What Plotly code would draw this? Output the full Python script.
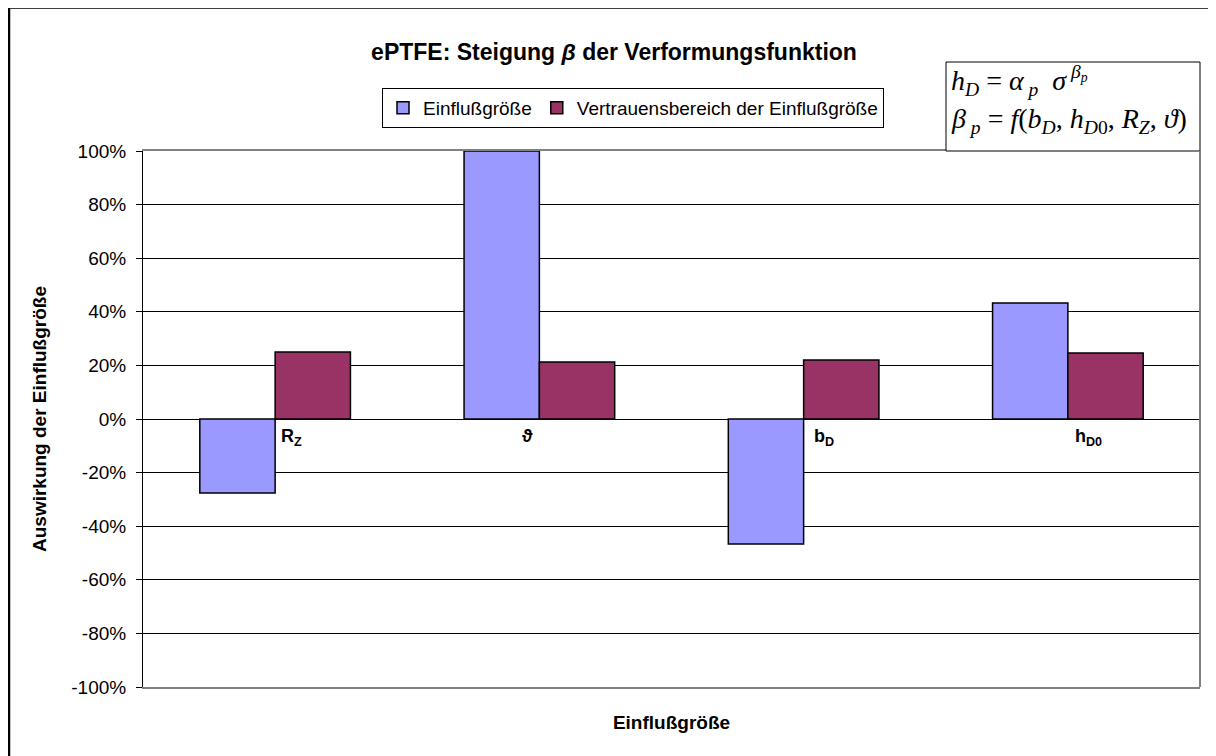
import plotly.graph_objects as go

categories = ["R<sub>Z</sub>", "ϑ", "b<sub>D</sub>", "h<sub>D0</sub>"]
einfluss = [-0.276, 1.0, -0.466, 0.433]
vertrauen = [0.25, 0.213, 0.22, 0.246]
tick_vals = [-1.0, -0.8, -0.6, -0.4, -0.2, 0.0, 0.2, 0.4, 0.6, 0.8, 1.0]
tick_text = ["-100%", "-80%", "-60%", "-40%", "-20%", "0%", "20%", "40%", "60%", "80%", "100%"]
cat_ids = ["RZ", "theta", "bD", "hD0"]

FONT = "Liberation Sans, Arial, sans-serif"
SERIF = "Liberation Serif, Times New Roman, serif"

# figure is drawn inside the page body (8px default margin), so size is reduced accordingly
W, H = 1208, 748
L, T, R, B = 135, 143, 16, 69
PW, PH = W - L - R, H - T - B


def px(xp):
    return (xp - L) / PW


def py(yp):
    return (H - B - yp) / PH


fig = go.Figure()
fig.add_trace(go.Bar(x=cat_ids, y=einfluss, name="Einflußgröße",
                     marker=dict(color="#9999FF", line=dict(color="#000000", width=1.5))))
fig.add_trace(go.Bar(x=cat_ids, y=vertrauen, name="Vertrauensbereich der Einflußgröße",
                     marker=dict(color="#993366", line=dict(color="#000000", width=1.5))))

annotations = []
shifts = [4, -12, 8, 5]
anchors = ["left", "center", "left", "left"]
for cid, lab, sh, an in zip(cat_ids, categories, shifts, anchors):
    annotations.append(dict(x=cid, y=0, xref="x", yref="y", text="<b>" + lab + "</b>",
                            showarrow=False, xanchor=an, yanchor="top", yshift=-5, xshift=sh,
                            font=dict(family=FONT, size=18, color="#000000")))

annotations.append(dict(xref="paper", yref="paper", x=px(941), y=py(73), xanchor="left", yanchor="middle",
                        text="<i>h</i><sub><i>D</i></sub> = <i>α</i><sub> <i>p</i></sub>  <i>σ</i><sup> <i>β</i><sub><i>p</i></sub></sup>",
                        showarrow=False, align="left",
                        font=dict(family=SERIF, size=28, color="#000000")))
annotations.append(dict(xref="paper", yref="paper", x=px(941), y=py(113), xanchor="left", yanchor="middle",
                        text="<i>β</i><sub> <i>p</i></sub> = <i>f</i>(<i>b</i><sub><i>D</i></sub>, <i>h</i><sub><i>D</i>0</sub>, <i>R</i><sub><i>Z</i></sub>, <i>ϑ</i>)",
                        showarrow=False, align="left",
                        font=dict(family=SERIF, size=28, color="#000000")))

fig.update_layout(
    width=W, height=H,
    margin=dict(l=L, r=R, t=T, b=B),
    paper_bgcolor="#FFFFFF", plot_bgcolor="#FFFFFF",
    barmode="group", bargap=0.43, bargroupgap=0,
    font=dict(family=FONT, size=19, color="#000000"),
    title=dict(text="<b>ePTFE: Steigung <i>β</i> der Verformungsfunktion</b>",
               x=606 / W, xanchor="center", y=1 - 44 / H, yanchor="middle",
               font=dict(family=FONT, size=23, color="#000000")),
    legend=dict(orientation="h", x=px(374), y=py(80), xanchor="left", yanchor="top",
                bordercolor="#000000", borderwidth=1, bgcolor="#FFFFFF",
                font=dict(family=FONT, size=19, color="#000000"),
                itemwidth=30, tracegroupgap=0, traceorder="normal"),
    xaxis=dict(showticklabels=False, showgrid=False, zeroline=False, showline=True,
               linecolor="#808080", linewidth=2, mirror=True, ticks="",
               title=dict(text="<b>Einflußgröße</b>", standoff=28,
                          font=dict(family=FONT, size=19, color="#000000"))),
    yaxis=dict(range=[-1, 1], tickvals=tick_vals, ticktext=tick_text,
               showgrid=True, gridcolor="#000000", gridwidth=1,
               zeroline=True, zerolinecolor="#000000", zerolinewidth=1,
               showline=True, linecolor="#000000", linewidth=1,
               ticks="outside", ticklen=6, tickcolor="#000000", ticklabelstandoff=6,
               tickfont=dict(family=FONT, size=19, color="#000000"),
               title=dict(text="<b>Auswirkung der Einflußgröße</b>", standoff=19,
                          font=dict(family=FONT, size=19, color="#000000"))),
    annotations=annotations,
    shapes=[
        dict(type="rect", xref="paper", yref="paper", x0=px(1), x1=1.2,
             y0=-0.3, y1=py(-0.5), line=dict(color="#000000", width=2.5), layer="below"),
        dict(type="rect", xref="paper", yref="paper", x0=px(938), x1=1.0,
             y0=1.0, y1=py(54), line=dict(color="#000000", width=1),
             fillcolor="#FFFFFF", layer="above"),
        dict(type="line", xref="paper", yref="paper", x0=1.0, x1=1.0, y0=0, y1=1,
             line=dict(color="#808080", width=2)),
    ],
)

fig.write_html("out.html")
